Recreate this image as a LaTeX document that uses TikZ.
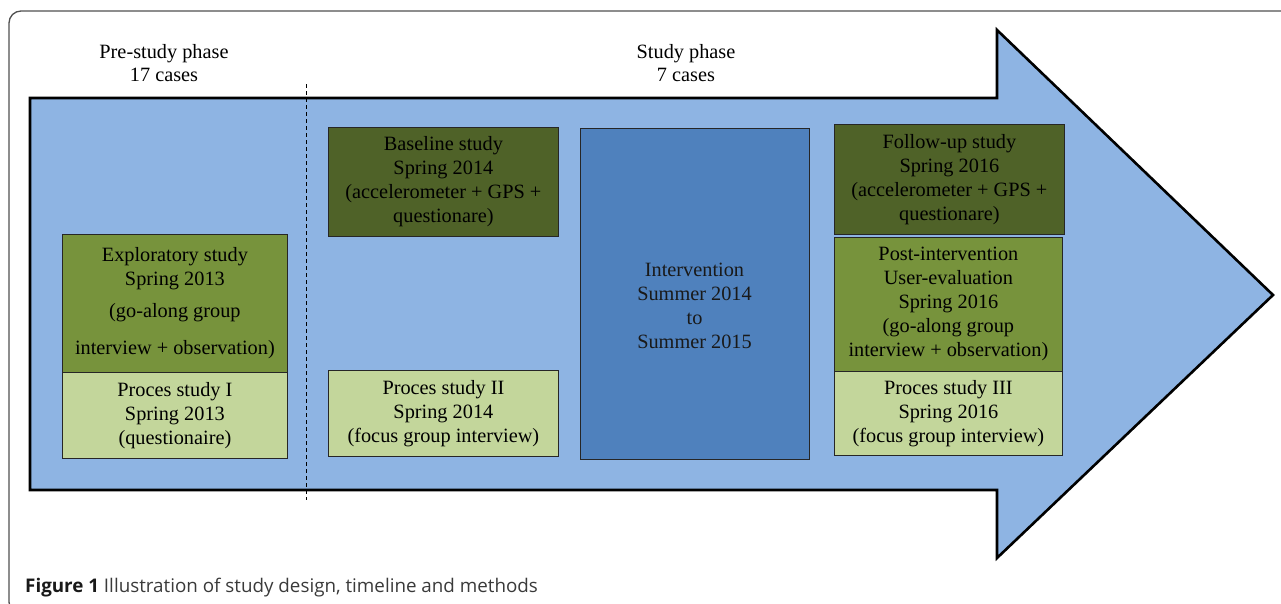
\documentclass[tikz,border=0pt]{standalone}
\usepackage{fontspec}
\setmainfont{Liberation Serif}
\newfontfamily\capfont{Open Sans}
\definecolor{arrowblue}{HTML}{8EB4E3}
\definecolor{intblue}{HTML}{4F81BD}
\definecolor{darkgreen}{HTML}{4F6228}
\definecolor{midgreen}{HTML}{77933C}
\definecolor{lightgreen}{HTML}{C3D69B}
\definecolor{framegray}{HTML}{505050}
\definecolor{captext}{HTML}{3A3A3A}
\begin{document}
\begin{tikzpicture}[x=1pt,y=-1pt,
  box/.style={draw=black!85, line width=0.8pt, anchor=north west, align=center,
    inner sep=0pt, font=\fontsize{20.3}{24}\selectfont, text=black},
  phase/.style={align=center, font=\fontsize{20.3}{23}\selectfont},
  bigarrow/.style={fill=arrowblue, draw=black, line width=2.6pt, line join=miter},
  divider/.style={draw=black, line width=0.8pt, dash pattern=on 4pt off 3pt}
]
\useasboundingbox (0,0) rectangle (1281,603);
\clip (0,0) rectangle (1281,603);
% outer frame
\draw[framegray, line width=1.3pt, rounded corners=12pt] (9,11) rectangle (1320,614);
% big arrow
\draw[bigarrow] (30,98) -- (997,98) -- (997,30) -- (1273,295) -- (997,558) -- (997,490) -- (30,490) -- cycle;
% divider
\coordinate (dtop) at (306,84);
\coordinate (dbot) at (306,500);
\draw[divider] (dtop) -- (dbot);
% phase labels
\node[phase] (pre) at (164,63) {Pre-study phase\\17 cases};
\node[phase] (study) at (686,63) {Study phase\\7 cases};
% pre-study boxes
\node[box, fill=midgreen, minimum width=225pt, minimum height=138pt] (expl) at (62,234)
  {Exploratory study\\Spring 2013\\[8pt](go-along group\\[13pt]interview + observation)};
\node[box, fill=lightgreen, minimum width=225pt, minimum height=86pt] (proc1) at (62,372)
  {Proces study I\\Spring 2013\\(questionaire)};
% baseline
\node[box, fill=darkgreen, minimum width=230pt, minimum height=109pt] (base) at (328,127)
  {Baseline study\\Spring 2014\\(accelerometer + GPS +\\questionare)};
\node[box, fill=lightgreen, minimum width=230pt, minimum height=86pt] (proc2) at (328,370)
  {Proces study II\\Spring 2014\\(focus group interview)};
% intervention
\node[box, fill=intblue, minimum width=229pt, minimum height=331pt] (intv) at (580,128) {};
\node[font=\fontsize{20.3}{24}\selectfont, align=center, text=black!90] (intvtext) at (694.5,306)
  {Intervention\\Summer 2014\\to\\Summer 2015};
% follow-up
\node[box, fill=darkgreen, minimum width=230pt, minimum height=110pt] (follow) at (834,124)
  {Follow-up study\\Spring 2016\\(accelerometer + GPS +\\questionare)};
\node[box, fill=midgreen, minimum width=228pt, minimum height=134pt] (post) at (834,237)
  {Post-intervention\\User-evaluation\\Spring 2016\\(go-along group\\interview + observation)};
\node[box, fill=lightgreen, minimum width=228pt, minimum height=84pt] (proc3) at (834,371)
  {Proces study III\\Spring 2016\\(focus group interview)};
% caption
\node[anchor=base west, inner sep=0pt, font=\capfont\fontsize{18.8}{22}\selectfont, text=captext] (cap) at (25,592)
  {{\bfseries\color{black!90}Figure 1} Illustration of study design, timeline and methods};
\end{tikzpicture}
\end{document}
